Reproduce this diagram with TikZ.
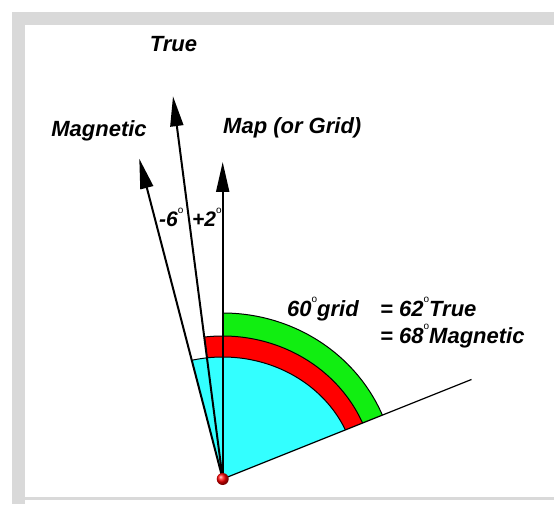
\documentclass[tikz,border=0pt]{standalone}
\usepackage{fontspec}
\setmainfont{Liberation Sans}
\usetikzlibrary{arrows.meta}
\definecolor{framegrey}{HTML}{D9D9D9}
\definecolor{sectcyan}{HTML}{33FFFF}
\definecolor{bandred}{HTML}{FF0000}
\definecolor{bandgreen}{HTML}{11EE11}
\tikzset{
  arrowline/.style={line width=2pt,-{Triangle[length=30pt,width=13pt]}},
  reflinestyle/.style={line width=1.2pt},
  arcline/.style={line width=1pt},
  lbl/.style={font=\fontsize{22}{24}\selectfont\bfseries\itshape,inner sep=0pt},
  smalllbl/.style={font=\fontsize{21}{23}\selectfont\bfseries\itshape,inner sep=0pt},
  declare function={ell(\t,\a,\b)=\a*\b/sqrt((\b*cos(\t))^2+(\a*sin(\t))^2);}
}
\newcommand{\dg}{\raisebox{0.62em}{\normalfont\fontsize{10}{10}\selectfont o}}
\begin{document}
\begin{tikzpicture}[x=1pt,y=1pt]
\useasboundingbox (0,0) rectangle (554,504);
\fill[white] (0,0) rectangle (554,504);
% frame
\fill[framegrey] (12,479) rectangle (554,492);
\fill[framegrey] (12,0) rectangle (25,492);
\fill[framegrey] (25,4) rectangle (554,7);
% key points
\coordinate (O) at (222.7,25);
\def\ang{21.8}
\coordinate (gridtip) at ([shift={(O)}]90:317);
\coordinate (truetip) at ([shift={(O)}]97.4:386);
\coordinate (magtip) at ([shift={(O)}]104.6:331);
\coordinate (lineend) at ([shift={(O)}]\ang:268);
% sectors
\begin{scope}[shift={(O)}]
\fill[sectcyan] (0,0) -- plot[domain=\ang:104.6,samples=60] (\x:{10*ell(\x,13.4,12.2)}) -- cycle;
\fill[bandred] plot[domain=\ang:97.4,samples=60] (\x:{10*ell(\x,15.2,14.3)})
   -- plot[domain=97.4:\ang,samples=60] (\x:{10*ell(\x,13.4,12.2)}) -- cycle;
\fill[bandgreen] plot[domain=\ang:90,samples=60] (\x:{10*ell(\x,17.3,16.6)})
   -- plot[domain=90:\ang,samples=60] (\x:{10*ell(\x,15.2,14.3)}) -- cycle;
\draw[arcline] plot[domain=\ang:104.6,samples=60] (\x:{10*ell(\x,13.4,12.2)});
\draw[arcline] plot[domain=\ang:97.4,samples=60] (\x:{10*ell(\x,15.2,14.3)});
\draw[arcline] plot[domain=\ang:90,samples=60] (\x:{10*ell(\x,17.3,16.6)});
\end{scope}
% lines
\draw[reflinestyle] (O) -- (lineend);
\draw[arrowline] (O) -- (magtip);
\draw[arrowline] (O) -- (truetip);
\draw[arrowline] (O) -- (gridtip);
\shade[ball color=red] (O) circle (6);
% labels
\node[lbl,anchor=base] (ltrue) at (173.5,452) {True};
\node[lbl,anchor=base] (lmag) at (99,367) {Magnetic};
\node[lbl,anchor=base west] (lgrid) at (223,370) {Map (or Grid)};
\node[smalllbl,anchor=base west] (lminus) at (159,277) {-6\dg};
\node[smalllbl,anchor=base west] (lplus) at (192,277) {+2\dg};
\node[lbl,anchor=base west] (lsixty) at (287,188) {60\dg grid};
\node[lbl,anchor=base west] (ltrueeq) at (380,188) {= 62\dg True};
\node[lbl,anchor=base west] (lmageq) at (380,161) {= 68\dg Magnetic};
\end{tikzpicture}
\end{document}
